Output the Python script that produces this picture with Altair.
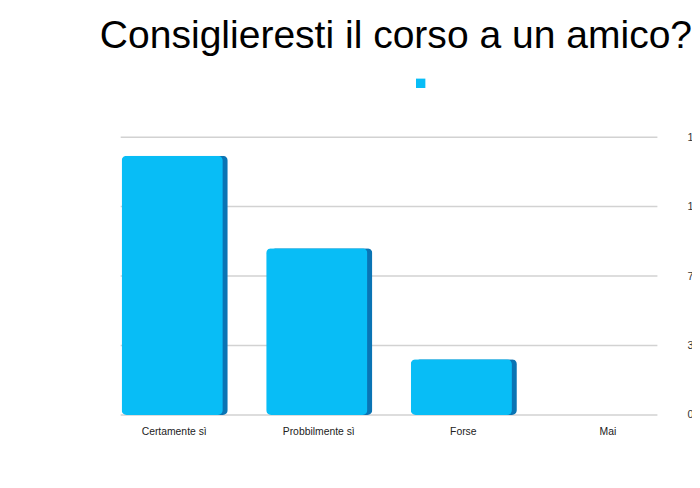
import altair as alt
import pandas as pd

# answers and counts
risposte = ["Certamente sì", "Probbilmente sì", "Forse", "Mai"]
valori = [14, 9, 3, 0]
serie = [" ", " ", " ", " "]
tick_valori = [0, 3.75, 7.5, 11.25, 15]

BLU = "#08bdf6"
BLU_SCURO = "#0a74b4"

data = pd.DataFrame({"risposta": risposte, "valore": valori, "serie": serie})
griglia = pd.DataFrame({"tick": tick_valori})

x_scale = alt.Scale(domain=risposte, paddingInner=0.3, paddingOuter=0.15)
y_scale = alt.Scale(domain=[0, 15], nice=False)

asse_x = alt.Axis(title=None, labelAngle=0, domain=False, ticks=False, grid=False,
				  labelPadding=12, labelFontSize=10.5, labelColor="#222",
				  labelFont="Liberation Sans")
asse_y = alt.Axis(orient="right", title=None, values=tick_valori, format=".2~f", grid=False,
				  domain=False, ticks=False, labelPadding=7, labelFontSize=11,
				  labelColor="#333", labelFont="Liberation Sans",
				  labelExpr="replace(datum.label, '.', ',')")

base = alt.Chart(data)

linee = alt.Chart(griglia).mark_rule(color="#d2d2d2", strokeWidth=1.5).encode(
	y=alt.Y("tick:Q", scale=y_scale, axis=asse_y),
	x=alt.value(19),
	x2=alt.value(562)
)

lato = base.mark_bar(color=BLU_SCURO, cornerRadius=5, xOffset=3).encode(
	x=alt.X("risposta:N", scale=x_scale, sort=risposte, axis=asse_x),
	y=alt.Y("valore:Q", scale=y_scale, axis=asse_y)
)

barre = base.mark_bar(cornerRadius=5, xOffset=-2).encode(
	x=alt.X("risposta:N", scale=x_scale, sort=risposte, axis=asse_x),
	y=alt.Y("valore:Q", scale=y_scale, axis=asse_y),
	color=alt.Color("serie:N", scale=alt.Scale(range=[BLU]),
					legend=alt.Legend(title=None, orient="none", legendX=317, legendY=-60,
									  symbolType="square", symbolSize=90, labelFontSize=1,
									  padding=0))
)

chart = alt.layer(linee, lato, barre).properties(
	width=585,
	height=281,
	padding={"left": 95, "top": 128, "right": 12, "bottom": 50},
	autosize=alt.AutoSizeParams(type="none"),
	background="white",
	title=alt.TitleParams("Consiglieresti il corso a un amico?", fontSize=39.5,
						  font="Liberation Sans", fontWeight="normal", color="black",
						  anchor="middle", offset=22, dx=5)
).configure_view(stroke=None)

chart.save("out.html", embed_options={"renderer": "svg", "actions": False})
